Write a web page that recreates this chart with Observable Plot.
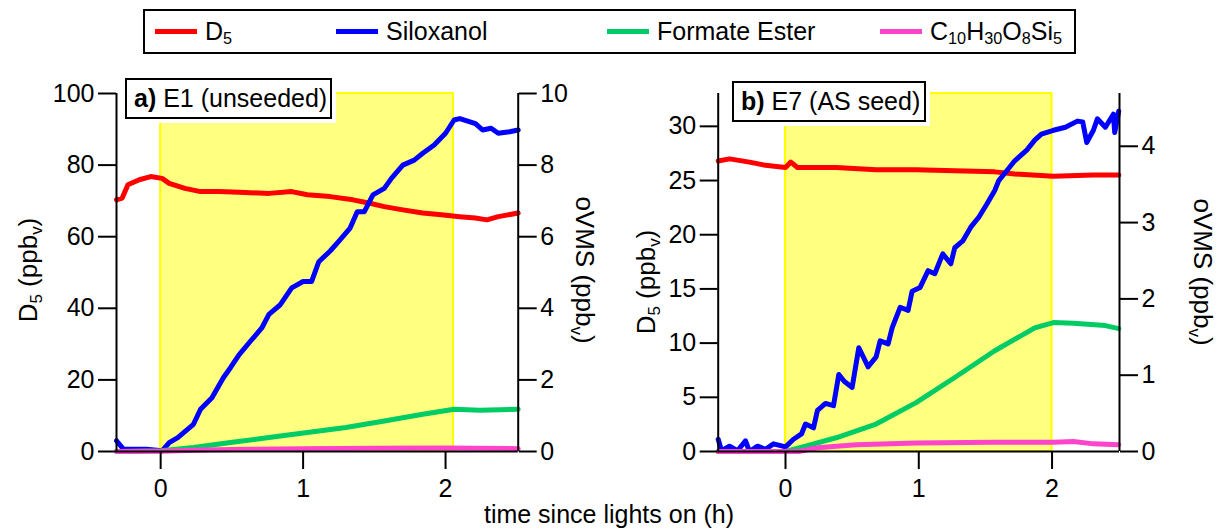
<!DOCTYPE html>
<html>
<head>
<meta charset="utf-8">
<script src="https://cdn.jsdelivr.net/npm/d3@7"></script>
<script src="https://cdn.jsdelivr.net/npm/@observablehq/plot@0.6"></script>
<style>
  html, body { margin: 0; padding: 0; background: #fff; }
  #wrap { position: relative; width: 1218px; height: 529px; overflow: hidden; font-family: "Liberation Sans", Arial, sans-serif; color: #000; }
  #wrap svg { position: absolute; top: 0; overflow: visible; }
  .abs { position: absolute; white-space: nowrap; line-height: 1; }
  .lbl { font-size: 26px; }
  .lbl sub, .leg sub { font-size: 0.65em; vertical-align: -0.3em; line-height: 0; }
  .box { position: absolute; border: 2px solid #000; background: #fff; box-shadow: 0 0 0 4px #fff; box-sizing: border-box; font-size: 25px; display: flex; align-items: center; padding-left: 7px; }
  .legbox { position: absolute; border: 2px solid #000; box-sizing: border-box; }
  .leg { font-size: 25px; }
  .sw { position: absolute; height: 5px; }
</style>
</head>
<body>
<div id="wrap"></div>
<script>
// ---------- Data ----------
const seriesNames = ["D5", "Siloxanol", "Formate Ester", "C10H30O8Si5"];
const seriesColors = ["#ff0000", "#0000ff", "#00cc66", "#ff44cc"];

// Panel a) E1 (unseeded) — D5 in ppbv, others oVMS in ppbv
const a_t_d5 = [-0.31,-0.27,-0.23,-0.15,-0.07,0.01,0.06,0.17,0.28,0.41,0.55,0.76,0.92,1.03,1.19,1.35,1.46,1.57,1.70,1.84,1.97,2.10,2.21,2.29,2.37,2.51];
const a_d5   = [70.3,70.8,74.5,75.9,76.8,76.3,74.9,73.5,72.6,72.6,72.4,72.1,72.6,71.7,71.2,70.3,69.4,68.4,67.5,66.6,66.1,65.6,65.2,64.7,65.6,66.6];
const a_t_silox = [-0.31,-0.26,-0.10,0.01,0.06,0.12,0.23,0.28,0.36,0.44,0.49,0.55,0.63,0.71,0.76,0.84,0.92,1.0,1.06,1.11,1.19,1.25,1.33,1.38,1.43,1.49,1.57,1.62,1.70,1.78,1.84,1.92,2.0,2.06,2.10,2.21,2.26,2.32,2.37,2.45,2.51];
const a_silox   = [0.30,0.06,0.06,0.02,0.25,0.39,0.76,1.18,1.50,2.06,2.34,2.70,3.08,3.45,3.83,4.10,4.57,4.75,4.75,5.30,5.60,5.87,6.24,6.70,6.70,7.17,7.35,7.63,8.00,8.14,8.33,8.56,8.89,9.26,9.30,9.16,8.98,9.03,8.89,8.93,8.98];
const a_t_fe = [-0.31,0.0,0.23,0.49,0.76,1.03,1.30,1.57,1.84,2.06,2.24,2.51];
const a_fe   = [0,0.02,0.11,0.25,0.39,0.53,0.67,0.85,1.04,1.18,1.15,1.18];
const a_t_c10 = [-0.31,0.0,0.3,0.6,1.0,1.5,2.0,2.2,2.51];
const a_c10   = [0,0.01,0.04,0.06,0.08,0.09,0.10,0.09,0.08];

// Panel b) E7 (AS seed)
const b_t_d5 = [-0.505,-0.42,-0.27,-0.15,0.0,0.04,0.09,0.38,0.68,0.98,1.27,1.57,1.72,2.01,2.31,2.50];
const b_d5   = [26.8,27.0,26.7,26.4,26.2,26.7,26.2,26.2,26.0,26.0,25.9,25.8,25.6,25.4,25.5,25.5];
const b_t_silox = [-0.505,-0.48,-0.42,-0.36,-0.30,-0.27,-0.21,-0.15,-0.09,0.0,0.06,0.12,0.15,0.21,0.24,0.30,0.36,0.40,0.44,0.50,0.55,0.62,0.68,0.71,0.77,0.80,0.86,0.92,0.95,1.01,1.07,1.12,1.18,1.24,1.27,1.33,1.39,1.45,1.51,1.57,1.60,1.66,1.72,1.81,1.87,1.92,2.01,2.10,2.19,2.23,2.26,2.31,2.34,2.40,2.46,2.47,2.50];
const b_silox   = [0.16,0.01,0.07,0.01,0.14,0.00,0.07,0.03,0.10,0.06,0.16,0.23,0.36,0.31,0.54,0.63,0.60,1.01,0.92,0.84,1.36,1.11,1.24,1.45,1.41,1.62,1.89,1.85,2.10,2.15,2.37,2.33,2.59,2.46,2.67,2.76,2.94,3.07,3.24,3.42,3.55,3.68,3.81,3.95,4.08,4.16,4.21,4.25,4.33,4.32,4.05,4.21,4.36,4.25,4.42,4.18,4.46];
const b_t_fe = [-0.505,0.0,0.15,0.38,0.68,0.98,1.27,1.57,1.87,2.01,2.16,2.40,2.50];
const b_fe   = [0,0,0.07,0.18,0.36,0.64,0.97,1.32,1.62,1.69,1.68,1.65,1.61];
const b_t_c10 = [-0.505,0.1,0.24,0.53,0.98,1.57,2.01,2.16,2.31,2.50];
const b_c10   = [0,0,0.05,0.09,0.11,0.12,0.12,0.13,0.10,0.09];

// Axis ticks
const xTicks = [0, 1, 2];
const a_leftTicks = [0, 20, 40, 60, 80, 100];
const a_rightTicks = [0, 2, 4, 6, 8, 10];
const b_leftTicks = [0, 5, 10, 15, 20, 25, 30];
const b_rightTicks = [0, 1, 2, 3, 4];

// Lights-on periods (h)
const a_lights = [{start: 0, end: 2.056}];
const b_lights = [{start: 0, end: 2.0}];

// ---------- Drawing ----------
const FONT = "'Liberation Sans', Arial, sans-serif";
function zipPts(t, v, k) { return t.map((d, i) => ({t: d, v: v[i] * k})); }

function panel({xDomain, yMax, k, lights, d5, silox, fe, c10, leftTicks, rightTicks, width, ml, mr}) {
  const lw = 5;
  return Plot.plot({
    width, height: 529,
    marginLeft: ml, marginRight: mr, marginTop: 93, marginBottom: 78,
    x: {domain: xDomain},
    y: {domain: [0, yMax]},
    style: {fontFamily: FONT, fontSize: "25px", color: "#000", background: "transparent", overflow: "visible"},
    marks: [
      Plot.rect(lights, {x1: "start", x2: "end", fill: "#ffff80", stroke: "#ffff00", strokeWidth: 2}),
      Plot.line(d5,    {x: "t", y: "v", stroke: seriesColors[0], strokeWidth: lw}),
      Plot.line(silox, {x: "t", y: "v", stroke: seriesColors[1], strokeWidth: lw}),
      Plot.line(fe,    {x: "t", y: "v", stroke: seriesColors[2], strokeWidth: lw}),
      Plot.line(c10,   {x: "t", y: "v", stroke: seriesColors[3], strokeWidth: lw}),
      Plot.ruleY([0], {stroke: "#000", strokeWidth: 2}),
      Plot.ruleX(xDomain, {stroke: "#000", strokeWidth: 2}),
      Plot.axisX({ticks: xTicks, tickSize: 18, tickPadding: 10, strokeWidth: 2, label: null, tickFormat: d => String(d)}),
      Plot.axisY({anchor: "left", ticks: leftTicks, tickSize: 18, tickPadding: 4, strokeWidth: 2, label: null, tickFormat: d => String(d)}),
      Plot.axisY({anchor: "right", ticks: rightTicks.map(d => d * k), tickSize: 18, tickPadding: 4, strokeWidth: 2, label: null, tickFormat: d => String(Math.round(d / k))})
    ]
  });
}

const wrap = document.getElementById("wrap");

const kA = 10;
const svgA = panel({
  xDomain: [-0.31, 2.51], yMax: 100, k: kA, lights: a_lights,
  d5: zipPts(a_t_d5, a_d5, 1), silox: zipPts(a_t_silox, a_silox, kA), fe: zipPts(a_t_fe, a_fe, kA), c10: zipPts(a_t_c10, a_c10, kA),
  leftTicks: a_leftTicks, rightTicks: a_rightTicks, width: 609, ml: 116, mr: 91.3
});
svgA.style.left = "0px";
wrap.appendChild(svgA);

const kB = 7.04;
const svgB = panel({
  xDomain: [-0.505, 2.506], yMax: 33.03, k: kB, lights: b_lights,
  d5: zipPts(b_t_d5, b_d5, 1), silox: zipPts(b_t_silox, b_silox, kB), fe: zipPts(b_t_fe, b_fe, kB), c10: zipPts(b_t_c10, b_c10, kB),
  leftTicks: b_leftTicks, rightTicks: b_rightTicks, width: 609, ml: 108.7, mr: 99
});
svgB.style.left = "609px";
wrap.appendChild(svgB);

// helper to add html
function add(html, cls, css) {
  const el = document.createElement("div");
  el.className = cls;
  el.innerHTML = html;
  Object.assign(el.style, css);
  wrap.appendChild(el);
  return el;
}

// Panel label boxes
add("<b>a)</b>&nbsp;E1 (unseeded)", "box", {left: "125px", top: "78px", width: "207px", height: "41px"});
add("<b>b)</b>&nbsp;E7 (AS seed)", "box", {left: "732px", top: "81px", width: "194px", height: "41px"});

// Axis titles
const d5Label = "D<sub>5</sub> (ppb<sub>v</sub>)";
const oLabel = "oVMS (ppb<sub>v</sub>)";
function rotLabel(html, cx, cy, deg) {
  const el = add(html, "abs lbl", {left: cx + "px", top: cy + "px"});
  el.style.transform = `translate(-50%, -50%) rotate(${deg}deg)`;
}
rotLabel(d5Label, 28, 270, -90);
rotLabel(oLabel, 585, 270, 90);
rotLabel(d5Label, 646, 282, -90);
rotLabel(oLabel, 1203, 272, 90);

// x label
const xl = add("time since lights on (h)", "abs lbl", {left: "609px", top: "514px"});
xl.style.transform = "translate(-50%, -50%)";
xl.style.fontSize = "25px";

// Legend
add("", "legbox", {left: "143px", top: "9px", width: "933px", height: "45px"});
const legendItems = [
  {html: "D<sub>5</sub>", x: 155},
  {html: "Siloxanol", x: 336},
  {html: "Formate Ester", x: 607},
  {html: "C<sub>10</sub>H<sub>30</sub>O<sub>8</sub>Si<sub>5</sub>", x: 880}
];
legendItems.forEach((it, i) => {
  add("", "sw", {left: it.x + "px", top: "29px", width: "42px", background: seriesColors[i]});
  const t = add(it.html, "abs leg", {left: (it.x + 50) + "px", top: "31px"});
  t.style.transform = "translateY(-50%)";
});
</script>
</body>
</html>
